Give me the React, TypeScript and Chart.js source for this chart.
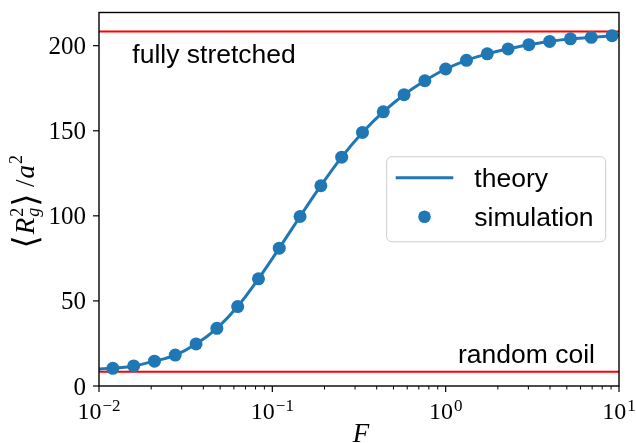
import React, { useEffect, useRef } from "react";
import { Chart, registerables } from "chart.js";

Chart.register(...registerables);

// ---- data ----
const simForce = [
  0.01202, 0.01585, 0.02089, 0.02754, 0.03631, 0.04786, 0.0631, 0.08318,
  0.10965, 0.14454, 0.19055, 0.25119, 0.33113, 0.43652, 0.57544, 0.75858,
  1.0, 1.31826, 1.7378, 2.29087, 3.01995, 3.98107, 5.24807, 6.91831, 9.12011,
];
const simRg2 = [
  10.4, 11.8, 14.6, 18.2, 24.7, 33.9, 46.7, 63.0, 81.0, 99.6, 117.7, 134.5,
  149.0, 161.1, 171.2, 179.4, 186.3, 191.4, 195.2, 198.1, 200.6, 202.5, 204.0,
  204.9, 205.9,
];
const theoryForce = [
  0.01, 0.01202, 0.01585, 0.02089, 0.02754, 0.03631, 0.04786, 0.0631, 0.08318,
  0.10965, 0.14454, 0.19055, 0.25119, 0.33113, 0.43652, 0.57544, 0.75858, 1.0,
  1.31826, 1.7378, 2.29087, 3.01995, 3.98107, 5.24807, 6.91831, 9.12011, 10.0,
];
const theoryRg2 = [
  10.0, 10.4, 11.8, 14.6, 18.2, 24.7, 33.9, 46.7, 63.0, 81.0, 99.6, 117.7,
  134.5, 149.0, 161.1, 171.2, 179.4, 186.3, 191.4, 195.2, 198.1, 200.6, 202.5,
  204.0, 204.9, 205.9, 206.1,
];
const fullyStretched = 208.33;
const randomCoil = 8.33;
const xRange = [0.01, 10];
const yRange = [0, 219.5];
const xTickExponents = [-2, -1, 0, 1];
const yTicks = [0, 50, 100, 150, 200];
const seriesLabels = ["theory", "simulation"];
const annotationTexts = ["fully stretched", "random coil"];

const BLUE = "#1f77b4";
const RED = "#ff0000";
const SERIF = "'Liberation Serif', 'DejaVu Serif', serif";
const SANS = "'Liberation Sans', Arial, sans-serif";

const decor = {
  id: "decor",
  afterDatasetsDraw(chart: any) {
    const { ctx, chartArea: a, scales } = chart;
    const xs = scales.x;
    const ys = scales.y;
    ctx.save();
    ctx.fillStyle = "#000";
    ctx.strokeStyle = "#000";

    // frame
    ctx.lineWidth = 1.4;
    ctx.strokeRect(a.left, a.top, a.right - a.left, a.bottom - a.top);

    // y ticks + labels
    ctx.lineWidth = 1.2;
    ctx.font = `25px ${SERIF}`;
    ctx.textAlign = "right";
    ctx.textBaseline = "alphabetic";
    yTicks.forEach((v) => {
      const y = ys.getPixelForValue(v);
      ctx.beginPath();
      ctx.moveTo(a.left - 6, y);
      ctx.lineTo(a.left, y);
      ctx.stroke();
      ctx.fillText(String(v), a.left - 13, y + 8.5);
    });

    // x ticks (major + minor)
    for (let e = -2; e <= 0; e++) {
      for (let m = 1; m <= 9; m++) {
        const v = m * Math.pow(10, e);
        const x = xs.getPixelForValue(v);
        const len = m === 1 ? 6 : 3.5;
        ctx.lineWidth = m === 1 ? 1.2 : 1;
        ctx.beginPath();
        ctx.moveTo(x, a.bottom);
        ctx.lineTo(x, a.bottom + len);
        ctx.stroke();
      }
    }
    {
      const x = xs.getPixelForValue(10);
      ctx.lineWidth = 1.2;
      ctx.beginPath();
      ctx.moveTo(x, a.bottom);
      ctx.lineTo(x, a.bottom + 6);
      ctx.stroke();
    }

    // x tick labels 10^e
    ctx.textAlign = "left";
    xTickExponents.forEach((e) => {
      const x = xs.getPixelForValue(Math.pow(10, e));
      const sup = e < 0 ? "\u2212" + Math.abs(e) : String(e);
      ctx.font = `24px ${SERIF}`;
      const wb = ctx.measureText("10").width;
      ctx.font = `17px ${SERIF}`;
      const ws = ctx.measureText(sup).width;
      const start = x - (wb + 1 + ws) / 2;
      ctx.font = `24px ${SERIF}`;
      ctx.fillText("10", start, a.bottom + 33);
      ctx.font = `17px ${SERIF}`;
      ctx.fillText(sup, start + wb + 1, a.bottom + 24.5);
    });

    // x title
    ctx.font = `italic 27px ${SERIF}`;
    ctx.textAlign = "center";
    ctx.fillText("F", (a.left + a.right) / 2 + 2, 442);

    // y title: <R_g^2> / a^2
    ctx.save();
    ctx.translate(33.5, (a.top + a.bottom) / 2 + 2);
    ctx.rotate(-Math.PI / 2);
    ctx.textAlign = "left";
    const bigI = `italic 27px ${SERIF}`;
    const big = `27px ${SERIF}`;
    const small = `18px ${SERIF}`;
    const smallI = `italic 18px ${SERIF}`;
    const brk = `34px 'DejaVu Serif', 'DejaVu Sans', serif`;
    type P = { t: string; f: string; dy: number };
    const parts: P[][] = [
      [{ t: "\u27E8", f: brk, dy: 3 }],
      [{ t: "R", f: bigI, dy: 0 }],
      [
        { t: "2", f: small, dy: -11 },
        { t: "g", f: smallI, dy: 5 },
      ],
      [{ t: "\u27E9", f: brk, dy: 3 }],
      [{ t: "\u2009/", f: big, dy: 0 }],
      [{ t: "a", f: bigI, dy: 0 }],
      [{ t: "2", f: small, dy: -12 }],
    ];
    const widths = parts.map((grp) =>
      Math.max(
        ...grp.map((p) => {
          ctx.font = p.f;
          return ctx.measureText(p.t).width;
        })
      )
    );
    const total = widths.reduce((s, w) => s + w + 1, 0);
    let cx = -total / 2;
    parts.forEach((grp, i) => {
      grp.forEach((p) => {
        ctx.font = p.f;
        ctx.fillText(p.t, cx, p.dy);
      });
      cx += widths[i] + 1;
    });
    ctx.restore();

    // annotations
    ctx.font = `26.5px ${SANS}`;
    ctx.textAlign = "left";
    ctx.fillText(annotationTexts[0], xs.getPixelForValue(0.01556), ys.getPixelForValue(189.7));
    ctx.textAlign = "right";
    ctx.fillText(annotationTexts[1], xs.getPixelForValue(7.27), ys.getPixelForValue(13.7));

    // legend
    const bw = 219;
    const bh = 85;
    const bx = a.right - 13.3 - bw;
    const by = (a.top + a.bottom) / 2 - bh / 2;
    ctx.beginPath();
    ctx.roundRect(bx, by, bw, bh, 5);
    ctx.fillStyle = "rgba(255,255,255,0.8)";
    ctx.fill();
    ctx.strokeStyle = "#cccccc";
    ctx.lineWidth = 1;
    ctx.stroke();
    ctx.strokeStyle = BLUE;
    ctx.lineWidth = 3;
    ctx.beginPath();
    ctx.moveTo(bx + 9, by + 21);
    ctx.lineTo(bx + 66.6, by + 21);
    ctx.stroke();
    ctx.fillStyle = BLUE;
    ctx.beginPath();
    ctx.arc(bx + 37.8, by + 60, 6.3, 0, Math.PI * 2);
    ctx.fill();
    ctx.fillStyle = "#000";
    ctx.font = `26.5px ${SANS}`;
    ctx.textAlign = "left";
    ctx.fillText(seriesLabels[0], bx + 87.6, by + 30);
    ctx.fillText(seriesLabels[1], bx + 87.6, by + 69.3);

    ctx.restore();
  },
};

export default function App() {
  const ref = useRef<HTMLCanvasElement | null>(null);
  useEffect(() => {
    if (!ref.current) return;
    const chart = new Chart(ref.current, {
      type: "line",
      data: {
        datasets: [
          {
            label: seriesLabels[0],
            data: theoryForce.map((f, i) => ({ x: f, y: theoryRg2[i] })),
            borderColor: BLUE,
            borderWidth: 3,
            pointRadius: 0,
            cubicInterpolationMode: "monotone",
            borderJoinStyle: "round",
            order: 2,
          },
          {
            label: seriesLabels[1],
            data: simForce.map((f, i) => ({ x: f, y: simRg2[i] })),
            showLine: false,
            pointRadius: 6.5,
            pointBackgroundColor: BLUE,
            pointBorderWidth: 0,
            borderColor: BLUE,
            order: 1,
          },
          {
            label: "fully stretched",
            data: xRange.map((f) => ({ x: f, y: fullyStretched })),
            borderColor: RED,
            borderWidth: 2,
            pointRadius: 0,
            order: 4,
          },
          {
            label: "random coil",
            data: xRange.map((f) => ({ x: f, y: randomCoil })),
            borderColor: RED,
            borderWidth: 2,
            pointRadius: 0,
            order: 4,
          },
        ],
      } as any,
      options: {
        animation: false,
        responsive: false,
        devicePixelRatio: 1,
        layout: { padding: { left: 0, right: 17, top: 12.5, bottom: 0 } },
        plugins: { legend: { display: false }, tooltip: { enabled: false } },
        scales: {
          x: {
            type: "logarithmic",
            min: xRange[0],
            max: xRange[1],
            ticks: { display: false },
            grid: { display: false },
            border: { display: false },
            afterFit: (s: any) => {
              s.height = 57;
            },
          },
          y: {
            type: "linear",
            min: yRange[0],
            max: yRange[1],
            ticks: { display: false },
            grid: { display: false },
            border: { display: false },
            afterFit: (s: any) => {
              s.width = 99;
            },
          },
        },
      } as any,
      plugins: [decor],
    });
    return () => chart.destroy();
  }, []);
  return (
    <canvas
      ref={ref}
      width={636}
      height={443}
      style={{ position: "absolute", left: 0, top: 0, background: "#fff" }}
    />
  );
}
